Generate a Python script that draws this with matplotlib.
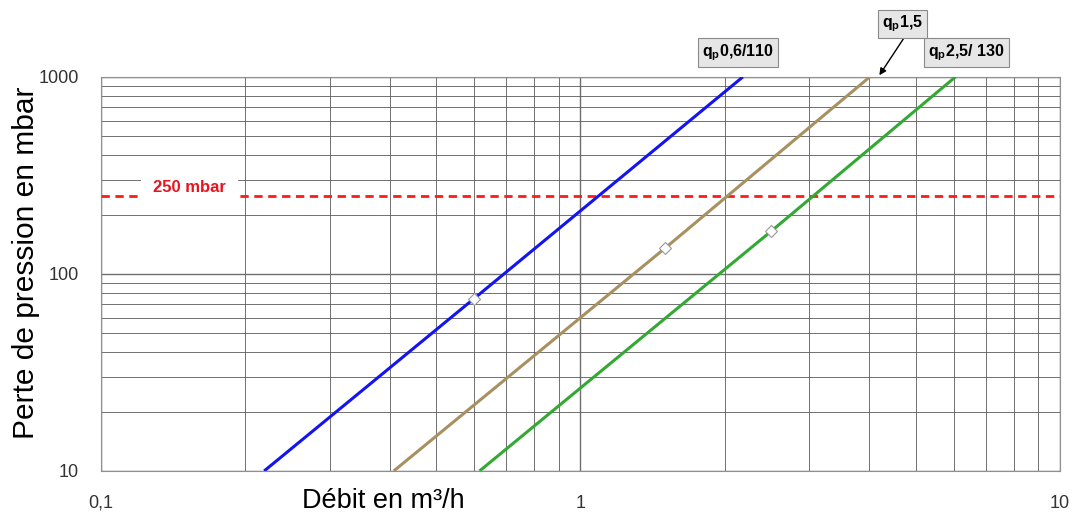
import matplotlib
matplotlib.use("Agg")
import matplotlib.pyplot as plt
from matplotlib.ticker import FixedLocator, NullFormatter

plt.rcParams['font.family'] = ['Liberation Sans', 'DejaVu Sans']
plt.rcParams['mathtext.fontset'] = 'custom'
plt.rcParams['mathtext.rm'] = 'Liberation Sans'
plt.rcParams['mathtext.bf'] = 'Liberation Sans:bold'

# flow (m3/h) vs pressure drop (mbar), read at the ends and the nominal point
q_06 = [0.219, 0.6, 2.18]
dp_06 = [10, 75, 1000]
q_15 = [0.408, 1.5, 4.01]
dp_15 = [10, 135, 1000]
q_25 = [0.616, 2.5, 6.05]
dp_25 = [10, 165, 1000]

limit_mbar = 250
x_ticks = [0.1, 1, 10]
x_ticklabels = ['0,1', '1', '10']
y_ticks = [10, 100, 1000]
y_ticklabels = ['10', '100', '1000']

fig = plt.figure(figsize=(10.74, 5.13), dpi=100)
ax = fig.add_axes([0.094, 0.082, 0.893, 0.768])
ax.set_xscale('log')
ax.set_yscale('log')
ax.set_xlim(0.1, 10)
ax.set_ylim(10, 1000)

# grid: one line per unit inside each decade
ax.xaxis.set_major_locator(FixedLocator(x_ticks))
ax.yaxis.set_major_locator(FixedLocator(y_ticks))
ax.xaxis.set_minor_locator(FixedLocator([m * d for d in (0.1, 1) for m in range(2, 10)]))
ax.yaxis.set_minor_locator(FixedLocator([m * d for d in (10, 100) for m in range(2, 10)]))
ax.xaxis.set_minor_formatter(NullFormatter())
ax.yaxis.set_minor_formatter(NullFormatter())
ax.set_xticklabels(x_ticklabels)
ax.set_yticklabels(y_ticklabels)
ax.grid(which='major', color='#6e6e6e', lw=1.0)
ax.grid(which='minor', color='#5a5a5a', lw=0.6)
ax.tick_params(which='both', length=0, labelsize=13, colors='#333333')
ax.tick_params(axis='y', pad=16)
ax.tick_params(axis='x', pad=17)
for s in ax.spines.values():
    s.set_color('#909090')
    s.set_linewidth(0.8)
ax.set_axisbelow(True)

ax.axhline(limit_mbar, color='#ff1a1a', lw=2, ls=(0, (3, 2)), zorder=3)
ax.text(0.153, limit_mbar * 1.1, '250 mbar', color='#e8141e', fontsize=12,
        fontweight='bold', ha='center', va='center', zorder=4,
        bbox=dict(facecolor='white', edgecolor='none', pad=9))

series = [
    (q_06, dp_06, '#1414f0'),
    (q_15, dp_15, '#a89060'),
    (q_25, dp_25, '#33a833'),
]
for q, dp, col in series:
    ax.plot(q, dp, color=col, lw=2.2, zorder=5, solid_capstyle='butt')
    ax.plot(q[1], dp[1], marker='D', ms=6, mfc='white', mec='#999999',
            mew=0.8, zorder=6)

box = dict(boxstyle='square,pad=0.25', facecolor='#e6e6e6', edgecolor='#8a8a8a', lw=0.8)
ax.text(2.13, 1330, r'$\mathbf{q_p}$0,6/110', fontsize=11.5, fontweight='bold',
        ha='center', va='center', bbox=box, clip_on=False)
ax.text(6.38, 1330, r'$\mathbf{q_p}$2,5/ 130', fontsize=11.5, fontweight='bold',
        ha='center', va='center', bbox=box, clip_on=False)
ax.annotate(r'$\mathbf{q_p}$1,5', xy=(4.2, 1020), xytext=(4.69, 1860),
            fontsize=11.5, fontweight='bold', ha='center', va='center',
            bbox=box, annotation_clip=False,
            arrowprops=dict(arrowstyle='-|>', color='black', lw=1,
                            relpos=(0.6, 0), shrinkA=0, shrinkB=0,
                            mutation_scale=10))

fig.text(0.024, 0.487, 'Perte de pression en mbar', fontsize=21.5, rotation=90,
         ha='center', va='center')
fig.text(0.357, 0.024, 'Débit en m³/h', fontsize=19.5, ha='center', va='center')

plt.savefig('out.png', dpi=100)
